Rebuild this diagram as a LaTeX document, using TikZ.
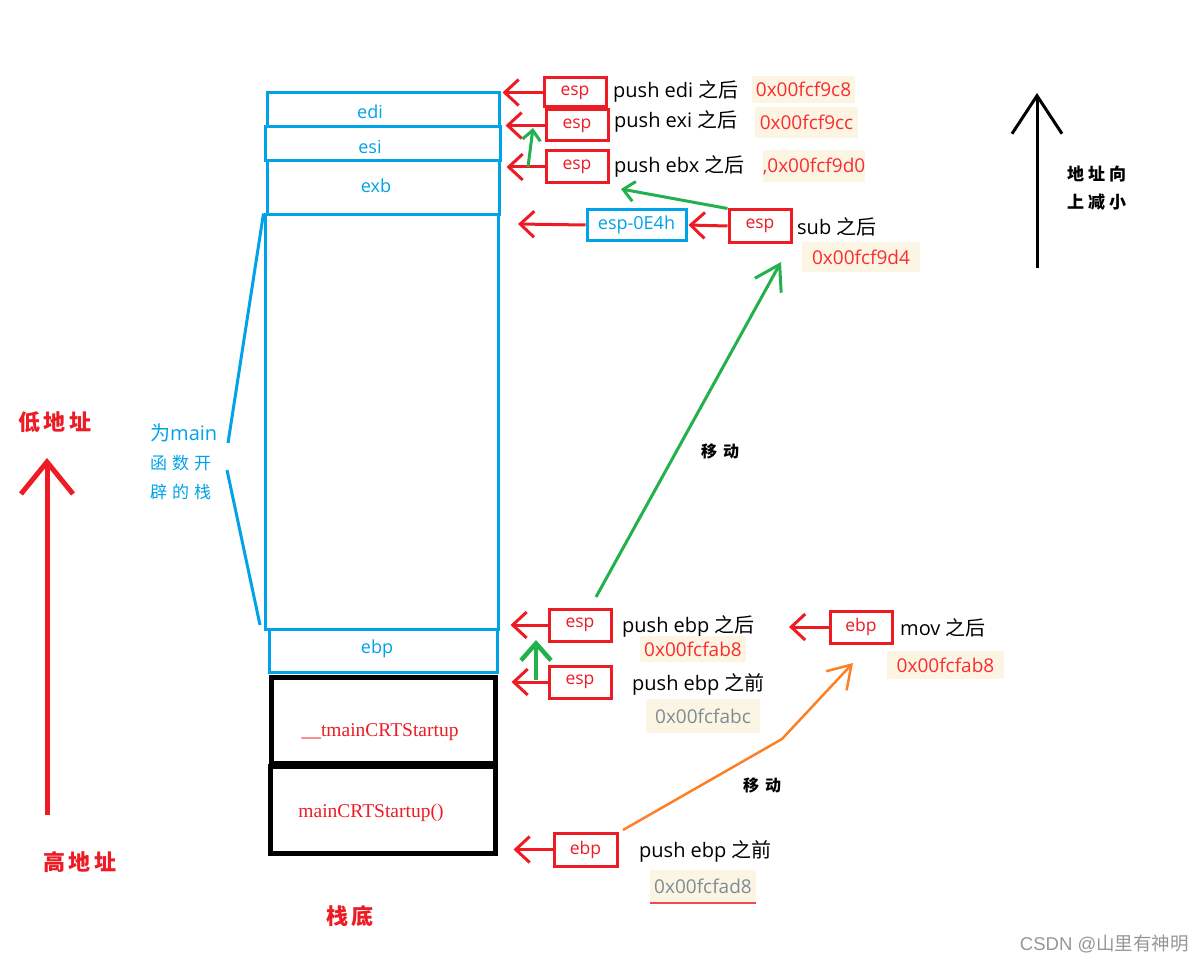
\documentclass[tikz,border=0pt]{standalone}
\usepackage{fontspec}
\setmainfont{Open Sans}
\newfontfamily\cjk{Noto Sans CJK SC}
\newfontfamily\serifx{Liberation Serif}
\newfontfamily\arialx{Liberation Sans}
\usetikzlibrary{arrows.meta}
\definecolor{rd}{RGB}{237,28,36}
\definecolor{bl}{RGB}{0,162,232}
\definecolor{gn}{RGB}{34,177,76}
\definecolor{og}{RGB}{255,127,39}
\definecolor{adr}{RGB}{250,45,45}
\definecolor{gy}{RGB}{125,140,150}
\definecolor{wmc}{RGB}{150,150,150}
\definecolor{bgc}{RGB}{253,245,228}
\newcommand{\fs}[1]{\fontsize{#1}{#1}\selectfont}
\begin{document}
\begin{tikzpicture}[x=1pt,y=-1pt,
  stk/.style={draw=bl, line width=3pt, inner sep=0pt},
  blk/.style={draw=black, line width=5pt, inner sep=0pt},
  stklbl/.style={text=bl, inner sep=0pt, font=\fs{18}},
  regbox/.style={draw=rd, line width=3pt, minimum width=62pt, minimum height=31pt, inner sep=0pt, text=rd, font=\fs{17.5}},
  lbl/.style={anchor=west, inner sep=0pt, font=\fs{20}},
  adrbox/.style={fill=bgc, text=adr, inner sep=0pt, font=\fs{19}},
  rarr/.style={draw=rd, line width=3pt, -{Straight Barb[length=14pt,width=26pt]}},
  garr/.style={draw=gn, line width=3pt, -{Straight Barb[length=11pt,width=20pt]}},
  bigred/.style={text=rd, inner sep=0pt, font=\fs{22}\cjk\bfseries},
  mv/.style={inner sep=0pt, font=\fs{16}\cjk\bfseries}
]
\useasboundingbox (0,0) rectangle (1203,963);

% stack frames
\node[stk, minimum width=232pt, minimum height=34pt] (edi) at (383,110) {};
\node[stk, minimum width=235pt, minimum height=34pt] (esi) at (382.5,144) {};
\node[stk, minimum width=232pt, minimum height=54pt] (exb) at (383,188) {};
\node[stk, minimum width=233pt, minimum height=414pt] (big) at (381.5,422) {};
\node[stk, minimum width=228pt, minimum height=43pt] (ebp) at (383,650.5) {};
\node[blk, minimum width=224pt, minimum height=86pt] (tmain) at (383,720) {};
\node[blk, minimum width=225pt, minimum height=87pt] (mainc) at (382.5,809.5) {};

\node[stklbl] (tedi) at (370,112) {edi};
\node[stklbl] (tesi) at (370,147) {esi};
\node[stklbl] (texb) at (376,186) {exb};
\node[stklbl] (tebp) at (377,649) {ebp};
\node[text=rd, inner sep=0pt, font=\fs{19.5}\serifx] (ttmain) at (380,732) {\_\_tmainCRTStartup};
\node[text=rd, inner sep=0pt, font=\fs{19.5}\serifx] (tmainc) at (371,813) {mainCRTStartup()};

% bracket for main's frame
\coordinate (b1) at (228,443);
\coordinate (b2) at (227,470);
\coordinate (b3) at (260,625);
\draw[bl, line width=3pt] (big.north west) -- (b1);
\draw[bl, line width=3pt] (b2) -- (b3);
\node[anchor=west, inner sep=0pt, text=bl, font=\fs{20}] (fm1) at (150,433) {{\cjk 为}main};
\node[anchor=west, inner sep=0pt, text=bl, font=\fs{17}\cjk] (fm2) at (150,463) {函\hspace{5pt}数\hspace{5pt}开};
\node[anchor=west, inner sep=0pt, text=bl, font=\fs{17}\cjk] (fm3) at (150,492) {辟\hspace{5pt}的\hspace{5pt}栈};

% left red address arrow
\node[bigred] (low) at (55,422) {低\hspace{4pt}地\hspace{4pt}址};
\node[bigred] (high) at (80,862) {高\hspace{4pt}地\hspace{4pt}址};
\node[bigred] (bottom) at (350,916) {栈\hspace{4pt}底};
\coordinate (ra1) at (47,815);
\coordinate (ra2) at (47,458);
\draw[rd, line width=5pt, -{Straight Barb[length=32pt,width=52pt]}] (ra1) -- (ra2);

% right black arrow
\coordinate (ka1) at (1037,268);
\coordinate (ka2) at (1037,93);
\draw[black, line width=3pt, -{Straight Barb[length=38pt,width=50pt]}] (ka1) -- (ka2);
\node[anchor=west, inner sep=0pt, font=\fs{17}\cjk\bfseries] (dz1) at (1067,174) {地\hspace{4pt}址\hspace{4pt}向};
\node[anchor=west, inner sep=0pt, font=\fs{17}\cjk\bfseries] (dz2) at (1067,202) {上\hspace{4pt}减\hspace{4pt}小};

% register boxes
\node[regbox, minimum height=29pt] (e1) at (575,92.5) {esp};
\node[regbox] (e2) at (577,125.5) {esp};
\node[regbox, minimum height=32pt] (e3) at (577,167) {esp};
\node[regbox, minimum height=32pt] (esub) at (760,226) {esp};
\node[draw=bl, line width=3pt, minimum width=99pt, minimum height=30pt, inner sep=0pt, text=bl, font=\fs{18}] (e0e4) at (636.5,225) {esp-0E4h};
\node[regbox, minimum height=32pt] (eafter) at (580,625) {esp};
\node[regbox, minimum height=32pt] (ebefore) at (580,682) {esp};
\node[regbox, minimum height=32pt] (ebpmov) at (861,627) {ebp};
\node[regbox, minimum width=63pt, minimum height=33pt] (ebpbot) at (585.5,849.5) {ebp};

% labels
\node[lbl] (l1) at (613,91) {push edi {\cjk 之后}};
\node[lbl] (l2) at (614,121) {push exi {\cjk 之后}};
\node[lbl] (l3) at (614,166) {push ebx {\cjk 之后}};
\node[lbl] (l4) at (797,227) {sub {\cjk 之后}};
\node[lbl] (l5) at (622,626) {push ebp {\cjk 之后}};
\node[lbl] (l6) at (632,684) {push ebp {\cjk 之前}};
\node[lbl] (l7) at (900,628) {mov {\cjk 之后}};
\node[lbl] (l8) at (639,851) {push ebp {\cjk 之前}};

% address boxes
\node[adrbox, minimum width=103pt, minimum height=27pt] (a1) at (803.5,89.5) {0x00fcf9c8};
\node[adrbox, minimum width=103pt, minimum height=31pt] (a2) at (806.5,122.5) {0x00fcf9cc};
\node[adrbox, minimum width=102pt, minimum height=32pt] (a3) at (814,166) {,0x00fcf9d0};
\node[adrbox, minimum width=118pt, minimum height=30pt] (a4) at (861,257) {0x00fcf9d4};
\node[adrbox, minimum width=106pt, minimum height=26pt] (a5) at (693,649) {0x00fcfab8};
\node[adrbox, text=gy, minimum width=114pt, minimum height=34pt] (a6) at (703,716) {0x00fcfabc};
\node[adrbox, minimum width=117pt, minimum height=28pt] (a7) at (945.5,665) {0x00fcfab8};
\node[adrbox, text=gy, minimum width=106pt, minimum height=33pt] (a8) at (703,886.5) {0x00fcfad8};
\draw[rd!80, line width=2pt] (a8.south west) -- (a8.south east);

% red arrows
\coordinate (c0) at (518,224);
\coordinate (c1) at (789,627);
\draw[rarr, shorten >=2pt] (e1.west) -- (e1.west -| edi.east);
\draw[rarr, shorten >=4pt] (e2.west) -- (e2.west -| esi.east);
\draw[rarr, shorten >=6pt] (e3.west) -- (e3.west -| exb.east);
\draw[rarr] (e0e4.west) -- (c0);
\draw[rarr, shorten >=1pt] (esub.west) -- (e0e4.east);
\draw[rarr, shorten >=11pt] (eafter.west) -- (eafter.west -| big.east);
\draw[rarr, shorten >=14pt] (ebefore.west) -- (ebefore.west -| tmain.east);
\draw[rarr] (ebpmov.west) -- (c1);
\draw[rarr, shorten >=16pt] (ebpbot.west) -- (ebpbot.west -| mainc.east);

% green arrows
\coordinate (g1a) at (528,167);
\coordinate (g1b) at (533,128);
\draw[garr, -{Straight Barb[length=10pt,width=18pt]}] (g1a) -- (g1b);
\coordinate (g2b) at (621,189);
\draw[garr] (esub.north west) -- (g2b);
\coordinate (g3a) at (596,597);
\coordinate (g3b) at (781,262);
\draw[garr, -{Straight Barb[length=24pt,width=30pt]}] (g3a) -- (g3b);
\coordinate (g4a) at (536,680);
\coordinate (g4b) at (536,640);
\draw[gn, line width=4.5pt, -{Straight Barb[length=17pt,width=30pt]}] (g4a) -- (g4b);
\node[mv] (mv1) at (720,451) {移\hspace{6pt}动};

% orange arrow
\coordinate (o1) at (623,830);
\coordinate (o2) at (782,739);
\coordinate (o3) at (853,663);
\draw[og, line width=2.5pt, -{Straight Barb[length=22pt,width=28pt]}] (o1) -- (o2) -- (o3);
\node[mv] (mv2) at (762,785) {移\hspace{6pt}动};

% watermark
\node[anchor=east, inner sep=0pt, text=wmc, font=\fs{18.5}\arialx] (wm) at (1189,944) {CSDN @{\cjk 山里有神明}};
\end{tikzpicture}
\end{document}
